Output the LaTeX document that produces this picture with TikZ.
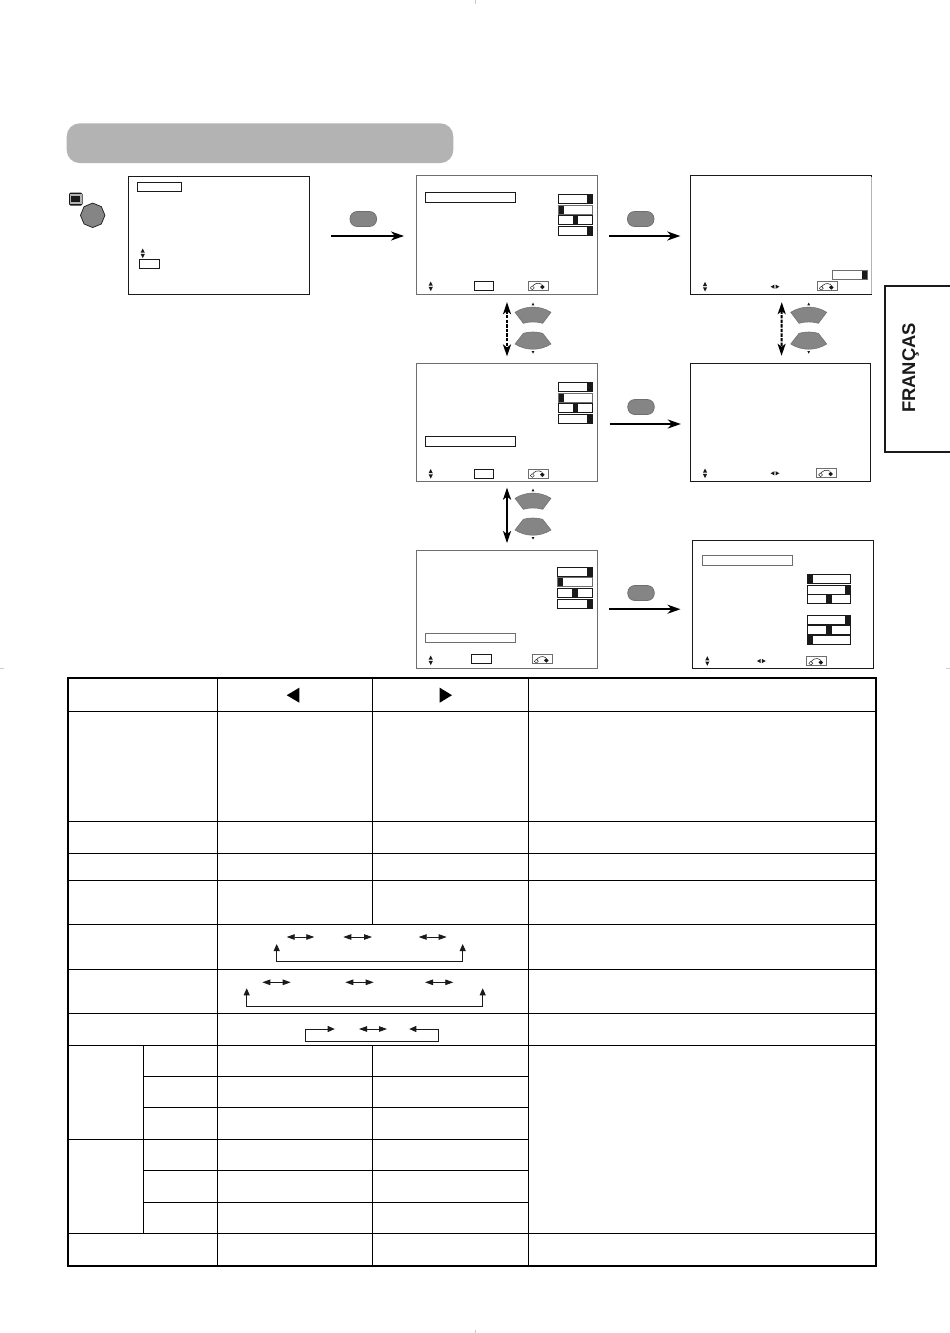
\documentclass[tikz,border=0pt]{standalone}
\usepackage{fontspec}
\setmainfont{Liberation Sans}
\usetikzlibrary{arrows.meta,shapes.geometric,calc}
\definecolor{btn}{HTML}{858585}
\definecolor{bar}{HTML}{B3B3B3}
\definecolor{frameg}{HTML}{6E6E6E}
\definecolor{ink}{HTML}{1A1A1A}
\tikzset{
  screen/.style={draw=ink,line width=1pt,fill=white,inner sep=0pt,minimum width=181pt},
  grayscreen/.style={screen,draw=frameg},
  okbtn/.style={draw=frameg,line width=.7pt,fill=btn,rounded corners=7pt,minimum width=26.5pt,minimum height=15pt,inner sep=0pt},
  flowarrow/.style={line width=2pt,black,-{Stealth[length=13pt,width=9pt,inset=4pt]}},
  vertarrow/.style={line width=2pt,black,{Stealth[length=12pt,width=8pt,inset=3pt]}-{Stealth[length=12pt,width=8pt,inset=3pt]}},
  boxline/.style={draw=ink,line width=.9pt},
  grayline/.style={draw=frameg,line width=.9pt},
  cell/.style={line width=1.2pt,black},
  dbl/.style={line width=.8pt,ink,{Triangle[length=8pt,width=5.5pt]}-{Triangle[length=8pt,width=5.5pt]}},
  cycdbl/.style={line width=.9pt,ink,{Triangle[length=7pt,width=6pt]}-{Triangle[length=7pt,width=6pt]}}
}
% small up/down mark
\newcommand{\updn}[2]{\fill[ink] (#1-2.1,#2-.6) -- (#1+2.1,#2-.6) -- (#1,#2-4.8) -- cycle (#1-2.1,#2+.6) -- (#1+2.1,#2+.6) -- (#1,#2+4.8) -- cycle;}
\newcommand{\lrmk}[2]{\fill[ink] (#1-.6,#2-2.1) -- (#1-.6,#2+2.1) -- (#1-4.4,#2) -- cycle (#1+.6,#2-2.1) -- (#1+.6,#2+2.1) -- (#1+4.4,#2) -- cycle;}
% return icon: left x, top y
\newcommand{\retn}[2]{
  \draw[frameg,line width=.9pt] (#1,#2) rectangle ++(19.7,9);
  \draw[ink,line width=.5pt] (#1+3.5,#2+6.5) .. controls (#1+5.5,#2+2) and (#1+10,#2+.6) .. (#1+13.5,#2+3);
  \draw[ink,line width=.4pt,fill=white] (#1+4,#2+4.6) -- (#1+6,#2+6.6) -- (#1+4,#2+8.4) -- (#1+2,#2+6.6) -- cycle;
  \fill[ink] (#1+14,#2+3.4) -- (#1+16.3,#2+5.7) -- (#1+14,#2+8) -- (#1+11.7,#2+5.7) -- cycle;
}
% slider: left, top, width, knob position (0 left, 1 mid, 2 right)
\newcommand{\sld}[5][boxline]{
  \pgfmathsetmacro{\kx}{#2+(#4-5.3)*#5/2}
  \fill[ink] (\kx,#3) rectangle ++(5.3,9);
  \path[#1] (#2,#3) rectangle ++(#4,9);
}
% pair of fan keys: centre x, y of the shoulder of the upper key
\newcommand{\fankeys}[2]{
  \path[draw=frameg,line width=.5pt,fill=btn]
    (#1-18,#2) .. controls (#1-7,#2-7) and (#1+7,#2-7) .. (#1+18,#2)
    -- (#1+9.7,#2+11) .. controls (#1+4,#2+9.2) and (#1-4,#2+9.2) .. (#1-9.7,#2+11) -- cycle;
  \path[draw=frameg,line width=.5pt,fill=btn]
    (#1-18,#2+31.7) .. controls (#1-7,#2+38.7) and (#1+7,#2+38.7) .. (#1+18,#2+31.7)
    -- (#1+9.7,#2+21) .. controls (#1+4,#2+19.2) and (#1-4,#2+19.2) .. (#1-9.7,#2+21) -- cycle;
  \fill[ink] (#1-1.4,#2-7) -- (#1+1.4,#2-7) -- (#1,#2-9.7) -- cycle
             (#1-1.4,#2+38.7) -- (#1+1.4,#2+38.7) -- (#1,#2+41.4) -- cycle;
}
\begin{document}
\begin{tikzpicture}[x=1pt,y=-1pt]
\useasboundingbox (0,0) rectangle (950,1333);
\fill[white] (0,0) rectangle (950,1333);

% faint trim marks
\draw[bar!70,line width=.6pt] (475,0) -- (475,4) (475,1330) -- (475,1333) (0,668) -- (4,668) (946,668) -- (950,668);

% title band
\node[fill=bar,rounded corners=13pt,minimum width=386.6pt,minimum height=39.7pt,inner sep=0pt] (band) at (260,143.2) {};

% menu key and its mark
\fill[ink,rounded corners=1.5pt] (69,192.5) rectangle (82.5,205.5);
\fill[bar] (69.8,194.4) rectangle (81.7,203.6);
\fill[ink] (71.3,196) rectangle (80.3,202);
\node[regular polygon,regular polygon sides=8,shape border rotate=22.5,draw=ink,line width=.7pt,fill=btn,minimum size=24.5pt,inner sep=0pt] (menukey) at (92.7,215.3) {};

% screens
\node[screen,minimum height=118pt] (s0) at (218.8,235.3) {};
\node[grayscreen,minimum height=118.7pt] (s1) at (506.5,235.3) {};
\node[screen,minimum height=118.7pt] (s2) at (780.8,235.3) {};
\node[grayscreen,minimum height=117.7pt] (s3) at (506.5,422.8) {};
\node[screen,minimum width=180.4pt,minimum height=118.4pt] (s4) at (780.5,422.5) {};
\node[grayscreen,minimum height=118.3pt] (s5) at (506.5,609.2) {};
\node[screen,minimum height=128.4pt] (s6) at (783,604.5) {};
\draw[white,line width=1.2pt] (871.3,177) -- (871.3,294);
\draw[bar,line width=.6pt] (871.3,177) -- (871.3,294);

% --- s0 contents
\draw[boxline] (137.3,182.3) rectangle (181.7,191.3);
\updn{142.7}{253.3}
\draw[boxline] (139.3,259.3) rectangle (159.7,268.7);

% --- s1 contents
\draw[boxline] (425.3,192.3) rectangle (515.7,202.7);
\sld{558.3}{194.3}{34.4}{2}
\sld[grayline]{558.3}{205}{34.4}{0}
\sld{558.3}{215.5}{34.4}{1}
\sld{558.3}{226.2}{34.4}{2}
\updn{430.7}{286.3}
\draw[boxline] (474,281.3) rectangle (493.7,290.3);
\retn{528.3}{281.3}

% --- s3 contents
\sld{558.3}{382.3}{34.4}{2}
\sld[grayline]{558.3}{393}{34.4}{0}
\sld{558.3}{403.5}{34.4}{1}
\sld{558.3}{414.2}{34.4}{2}
\draw[boxline] (425.3,436.3) rectangle (515.7,446.7);
\updn{430.7}{473.8}
\draw[boxline] (474,469) rectangle (493.7,478);
\retn{528.3}{469}

% --- s5 contents
\sld{557.3}{567.7}{35.4}{2}
\sld[grayline]{557.3}{577.9}{35.4}{0}
\sld{557.3}{588.3}{35.4}{1}
\sld{557.3}{599.4}{35.4}{2}
\draw[grayline] (425.3,633.3) rectangle (515,642.7);
\updn{430.7}{660.3}
\draw[boxline] (471.3,654.7) rectangle (491,663.7);
\retn{532.3}{654.7}

% --- s2 contents
\sld[grayline]{832}{270.5}{35}{2}
\updn{705}{286.7}
\lrmk{775}{286.7}
\retn{817.3}{281.7}

% --- s4 contents
\updn{705}{473.3}
\lrmk{775}{473.3}
\retn{816.6}{468.3}

% --- s6 contents
\draw[grayline] (702.7,555) rectangle (792.7,565);
\sld{807.3}{574.5}{43.4}{0}
\sld{807.3}{585.3}{43.4}{2}
\sld{807.3}{594.9}{43.4}{1}
\sld{807.3}{615.2}{43.4}{2}
\sld{807.3}{625.2}{43.4}{1}
\sld{807.3}{635.5}{43.4}{0}
\updn{707.3}{661}
\lrmk{761.3}{661}
\retn{806.8}{656.7}

% --- keys above the horizontal arrows
\node[okbtn] (k1) at (363.3,219) {};
\node[okbtn] (k2) at (640.7,219) {};
\node[okbtn] (k3) at (641,407) {};
\node[okbtn] (k4) at (641,593) {};

% --- connectors between the screens
\draw[flowarrow,shorten <=21pt,shorten >=11.5pt] (s0.east) ++(0,.7) coordinate (a0) (a0) -- (a0 -| s1.west);
\draw[flowarrow,shorten <=11pt,shorten >=9.5pt] (s1.east) ++(0,.7) coordinate (a1) (a1) -- (a1 -| s2.west);
\draw[flowarrow,shorten <=12pt,shorten >=9pt] (s3.east) ++(0,1.2) coordinate (a2) (a2) -- (a2 -| s4.west);
\draw[flowarrow,shorten <=11.5pt,shorten >=11.5pt] (s5.east) coordinate (a3) (a3) -- (a3 -| s6.west);

\draw[vertarrow,dash pattern=on 3.4pt off 1.2pt,shorten <=7pt,shorten >=7pt] ([xshift=.5pt]s1.south) -- ([xshift=.5pt]s3.north);
\draw[vertarrow,shorten <=5.5pt,shorten >=6.5pt] ([xshift=.5pt]s3.south) -- ([xshift=.5pt]s5.north);
\draw[vertarrow,dash pattern=on 3.4pt off 1.2pt,shorten <=7pt,shorten >=7pt] ([xshift=1pt]s2.south) -- ([xshift=1pt]s4.north);

\fankeys{533}{312.3}
\fankeys{533}{498.3}
\fankeys{808.7}{312.3}

% --- language tab
\draw[line width=2pt,ink] (950,285.7) -- (884.7,285.7) -- (884.7,451.7) -- (950,451.7);
\node[rotate=90,anchor=base,inner sep=0pt,font=\fontsize{18.4}{20}\selectfont\bfseries,text=ink] (lang) at (915,368) {FRANÇAS};

% --- table
\coordinate (tl) at (68,677.7);
\coordinate (br) at (876,1266);
\draw[cell]
  (68,711.3) -- (876,711.3)
  (68,821.3) -- (876,821.3)
  (68,853.3) -- (876,853.3)
  (68,880.3) -- (876,880.3)
  (68,924.2) -- (876,924.2)
  (68,969.3) -- (876,969.3)
  (68,1013.3) -- (876,1013.3)
  (68,1045.3) -- (876,1045.3)
  (143.3,1076.3) -- (528.3,1076.3)
  (143.3,1107.3) -- (528.3,1107.3)
  (68,1139.3) -- (528.3,1139.3)
  (143.3,1170.3) -- (528.3,1170.3)
  (143.3,1202.3) -- (528.3,1202.3)
  (68,1233.3) -- (876,1233.3)
  (217.3,677.7) -- (217.3,1266)
  (372.3,677.7) -- (372.3,924.2)
  (372.3,1045.3) -- (372.3,1266)
  (528.3,677.7) -- (528.3,1266)
  (143.3,1045.3) -- (143.3,1233.3);
\draw[line width=2.3pt,black] (tl) rectangle (br);
\fill[black] (299.3,687.7) -- (299.3,702.7) -- (286.7,695.2) -- cycle;
\fill[black] (439.7,687.7) -- (439.7,702.7) -- (452,695.2) -- cycle;

% cycle row 1
\coordinate (r1a) at (286.7,937); \coordinate (r1b) at (314.3,937);
\coordinate (r1c) at (343.3,937); \coordinate (r1d) at (372,937);
\coordinate (r1e) at (418.7,937); \coordinate (r1f) at (446.7,937);
\draw[dbl] (r1a) -- (r1b);
\draw[dbl] (r1c) -- (r1d);
\draw[dbl] (r1e) -- (r1f);
\coordinate (r1g) at (276.7,944); \coordinate (r1h) at (462.7,944);
\draw[cycdbl] (r1g) -- (276.7,961.3) -- (462.7,961.3) -- (r1h);

% cycle row 2
\coordinate (r2a) at (262.3,982.3); \coordinate (r2b) at (290.7,982.3);
\coordinate (r2c) at (345.3,982.3); \coordinate (r2d) at (373.7,982.3);
\coordinate (r2e) at (425,982.3); \coordinate (r2f) at (453.3,982.3);
\draw[dbl] (r2a) -- (r2b);
\draw[dbl] (r2c) -- (r2d);
\draw[dbl] (r2e) -- (r2f);
\coordinate (r2g) at (246.7,988.3); \coordinate (r2h) at (482.7,988.3);
\draw[cycdbl] (r2g) -- (246.7,1006.3) -- (482.7,1006.3) -- (r2h);

% cycle row 3
\coordinate (r3a) at (359,1029); \coordinate (r3b) at (387,1029);
\draw[dbl] (r3a) -- (r3b);
\coordinate (r3c) at (334.7,1029); \coordinate (r3d) at (409.3,1029);
\draw[cycdbl] (r3c) -- (305.7,1029) -- (305.7,1041.3) -- (438.7,1041.3) -- (438.7,1029) -- (r3d);
\end{tikzpicture}
\end{document}
